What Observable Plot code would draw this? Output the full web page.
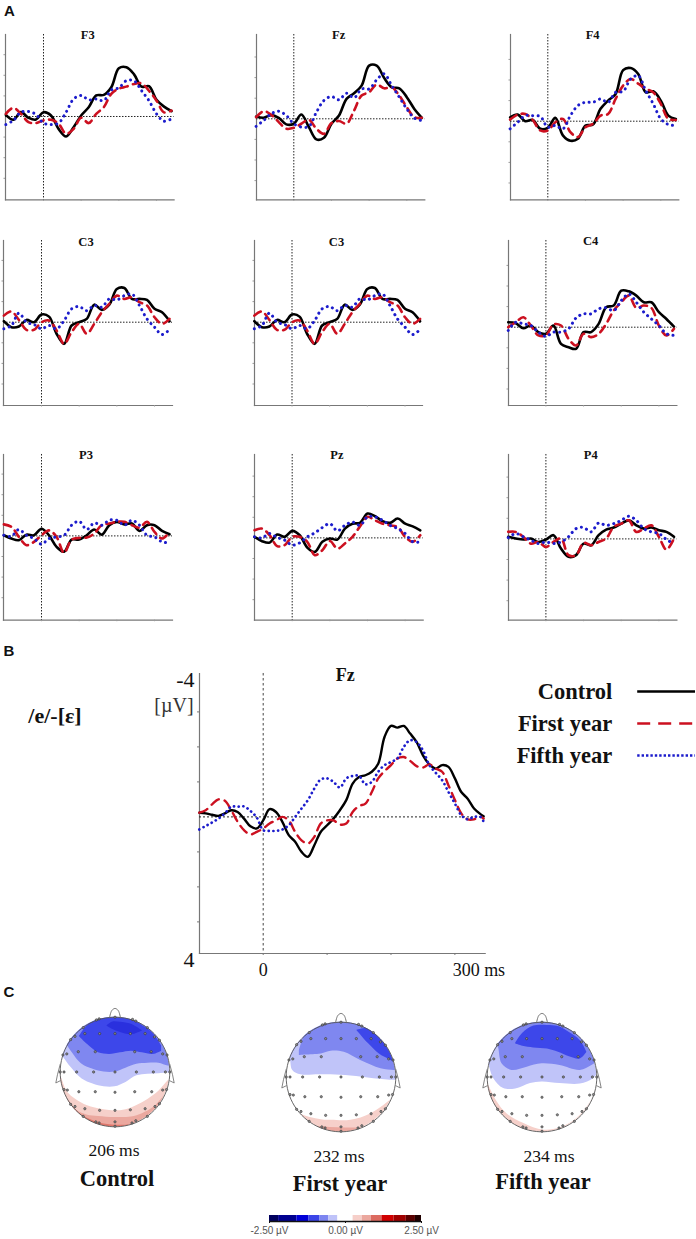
<!DOCTYPE html>
<html><head><meta charset="utf-8">
<script src="https://cdn.jsdelivr.net/npm/d3@7"></script>
<script src="https://cdn.jsdelivr.net/npm/@observablehq/plot@0.6"></script>
<style>
html,body{margin:0;padding:0;background:#fff}
#page{position:relative;width:696px;height:1239px;overflow:hidden;background:#fff}
#page>svg,#page>figure{position:absolute;margin:0}
.t{position:absolute;white-space:nowrap;line-height:1;transform:translate(-50%,-50%)}
.serif{font-family:"Liberation Serif",serif}
.sans{font-family:"Liberation Sans",sans-serif}
</style></head><body><div id="page"></div>
<script>
// ---------- Time grids (ms) ----------
const smallTimes=[-100,-80,-60,-40,-20,0,20,40,60,80,100,120,140,160,180,200,220,240,260,280,300,320,340];
const bigTimes=[-100,-90,-80,-70,-60,-50,-40,-30,-20,-10,0,10,20,30,40,50,60,70,80,90,100,110,120,130,140,150,160,170,180,190,200,210,220,230,240,250,260,270,280,290,300,310,320,330,340,345];

// ---------- Panel A, amplitudes (µV) ----------
const f3Control=[-.08,.16,-.21,.06,.15,-.21,-.05,.6,.97,.52,-.05,-.45,-1.02,-1.05,-1.42,-2.34,-2.39,-2.06,-1.45,-1.47,-.81,-.48,-.26];
const f3First=[-.13,-.42,-.13,.27,.32,.19,.16,.35,.84,.6,.06,.32,-.13,-.45,-1.1,-1.35,-1.45,-1.58,-1.61,-1.25,-.77,-.2,-.29];
const f3Fifth=[.39,.19,-.21,-.24,-.1,.32,.39,.32,-.21,-.85,-1.02,-.81,-.85,-.77,-1.29,-1.39,-1.74,-1.74,-1.26,-.77,-.13,.23,.11];
const fzControl=[-.11,-.05,-.18,-.05,.27,.24,-.21,.4,1.0,.92,.24,-.16,-.97,-1.24,-1.61,-2.58,-2.58,-1.98,-1.53,-1.48,-1.05,-.48,-.05];
const fzFirst=[-.08,-.37,-.19,.16,.48,.44,.24,.05,.48,.73,.21,.11,.24,-.4,-1.13,-1.29,-1.66,-1.48,-1.53,-1.13,-.56,-.08,-.05];
const fzFifth=[.37,.08,-.24,-.37,-.16,.24,.4,.37,-.32,-.89,-1.08,-.92,-1.24,-1.02,-1.45,-1.45,-1.89,-2.18,-1.61,-1.05,-.48,-.03,.08];
const f4Control=[-.19,-.32,0,-.06,.37,.32,-.16,.69,.95,.85,.21,.16,-.6,-1.0,-1.32,-2.48,-2.58,-2.29,-1.4,-1.45,-1,-.27,-.11];
const f4First=[-.08,-.32,-.35,-.06,.45,.45,.05,-.11,.53,.77,.29,.13,-.27,-.35,-1.08,-1.73,-2.05,-1.82,-1.58,-1.4,-.84,-.11,-.06];
const f4Fifth=[.37,.05,-.27,-.27,-.23,.29,.21,.37,-.27,-.76,-.92,-.92,-1.08,-.92,-1.4,-1.45,-2.05,-2.21,-1.48,-.84,-.11,.16,.21];
const c3Control=[-.05,.24,.21,-.11,0,-.37,-.27,.56,1.05,.16,0,-.16,-.85,-.6,-.85,-1.61,-1.66,-1.13,-1.13,-1.08,-.65,-.48,-.05];
const c3First=[-.32,-.52,-.11,.37,.37,0,-.08,.4,1.05,.48,.08,.56,.08,-.48,-.89,-1.29,-1.13,-1.21,-.97,-.81,-.24,.08,-.16];
const c3Fifth=[.32,.16,-.44,0,.11,.32,.16,.32,-.08,-.65,-.76,-.56,-.81,-.73,-1.13,-1.08,-1.29,-1.37,-.81,-.16,.24,.6,.35];
const c4Control=[-.24,-.19,.05,-.08,.24,.32,-.08,.81,.97,1.05,.24,.24,-.16,-.97,-1.05,-1.77,-1.74,-1.53,-1.21,-1.21,-.73,-.4,-.03];
const c4First=[0,-.24,-.48,-.08,.4,.4,-.13,-.08,.56,.89,.32,.48,.32,-.16,-.81,-1.21,-1.53,-.94,-1.05,-.94,-.08,.4,.08];
const c4Fifth=[.16,-.24,-.16,-.08,.24,.45,.24,.24,.08,-.45,-.65,-.65,-.89,-.94,-.81,-1.29,-1.61,-1.21,-.73,-.4,-.08,.32,.4];
const p3Control=[-.03,.13,.21,-.06,-.03,-.35,-.03,.53,.77,.18,.18,-.03,-.31,-.06,-.52,-.68,-.56,-.6,-.24,-.52,-.52,-.24,-.08];
const p3First=[-.56,-.44,.05,.45,.29,-.03,-.27,.05,.82,.18,.1,.08,-.11,-.52,-.6,-.68,-.68,-.52,-.4,-.68,-.19,.13,-.19];
const p3Fifth=[-.03,.02,-.31,-.03,.13,.4,.13,.05,-.03,-.52,-.71,-.31,-.63,-.52,-.76,-.76,-.52,-.76,-.52,-.03,.05,.29,.34];
const pzControl=[-.05,.16,.23,-.16,-.05,-.34,-.13,.47,.68,.19,.03,.08,-.45,-.69,-.73,-1.18,-1.05,-.81,-.73,-.94,-.69,-.56,-.37];
const pzFirst=[-.37,-.45,-.13,.4,.35,-.05,-.05,.19,.84,.6,.15,.52,.27,-.05,-.56,-1.02,-.85,-.69,-.61,-.53,-.05,.19,-.13];
const pzFifth=[-.05,0,-.21,-.02,.11,.35,.24,-.05,-.24,-.5,-.69,-.34,-.61,-.77,-.61,-1.02,-1.02,-.85,-.61,-.45,-.21,.19,.19];
const p4Control=[-.1,-.02,.03,-.02,.15,.03,-.18,.47,.87,.79,.23,.31,-.18,-.45,-.55,-.74,-.9,-.66,-.5,-.55,-.42,-.34,-.1];
const p4First=[-.34,-.34,-.1,.23,.15,.39,.15,-.02,.79,.79,.19,.31,.15,-.02,-.58,-.74,-.9,-.34,-.5,-.66,-.1,.52,-.02];
const p4Fifth=[-.06,-.26,-.1,.06,.23,.15,.23,.15,-.1,-.5,-.55,-.34,-.77,-.66,-.74,-.9,-1.1,-.9,-.5,-.34,-.26,.03,.23];

// ---------- Panel B, amplitudes (µV) ----------
const bigControl=[-.12,-.10,-.06,-.03,-.10,-.19,-.14,.05,.27,.33,.10,-.22,-.14,.14,.52,.71,1.0,1.14,.81,.43,.24,.05,-.19,-.48,-.95,-1.14,-1.19,-1.29,-1.52,-2.29,-2.6,-2.55,-2.6,-2.38,-2.14,-1.76,-1.5,-1.38,-1.48,-1.43,-1.1,-.71,-.52,-.24,-.08,-.02];
const bigFirst=[-.12,-.19,-.36,-.5,-.46,-.19,.14,.38,.5,.43,.33,.19,.1,0,.1,.43,.67,.76,.57,.19,.1,.1,.22,.19,-.14,-.31,-.38,-.71,-1.10,-1.31,-1.48,-1.67,-1.71,-1.6,-1.45,-1.41,-1.5,-1.38,-1.29,-.9,-.48,-.1,.07,.07,0,.05];
const bigFifth=[.36,.26,.16,.05,-.1,-.29,-.29,-.3,-.17,.02,.38,.4,.4,.36,.24,0,-.24,-.48,-.81,-1.07,-1.1,-1,-.84,-1.1,-1.17,-1.17,-.93,-1,-1.29,-1.48,-1.57,-1.67,-2,-2.19,-2.14,-1.9,-1.48,-1.26,-1.05,-.71,-.38,-.05,.07,0,0,.14];

// ---------- Panel C, electrode positions on the unit head ----------
const electrodeU=[0,-.34,-.29,.32,.38,-.58,.59,-.73,-.81,.72,.81,-.55,-.28,0,.28,.55,-.88,-.95,-.67,-.36,.36,.66,.87,.95,-1,-.93,-.7,-.39,0,.39,.7,.92,1,-.93,-.87,-.66,-.36,0,.36,.67,.87,.94,-.81,-.73,-.55,-.28,0,.28,.55,.73,.81,-.58,-.35,-.29,0,0,.31,.38,.59];
const electrodeV=[1,.95,.97,.96,.93,.81,.81,.65,.59,.64,.58,.7,.7,.7,.7,.7,.33,.31,.37,.37,.37,.37,.33,.31,0,0,0,0,0,0,0,0,0,-.32,-.33,-.36,-.36,-.37,-.36,-.36,-.33,-.32,-.59,-.63,-.67,-.7,-.7,-.69,-.67,-.63,-.58,-.81,-.91,-.93,-.91,-.99,-.93,-.89,-.81];

// ---------- Panel C, potential band outlines (head coordinates) ----------
const ctlLightU=[-1.05,-.95,-.8,-.6,-.4,-.2,0,.2,.4,.6,.8,.97,1.05];
const ctlLightLo=[.4,.28,.08,-.13,-.22,-.27,-.27,-.19,-.07,-.04,-.03,-.02,-.02];
const ctlMidU=[-1,-.9,-.8,-.6,-.4,-.2,0,.2,.4,.6,.8,.97,1.05];
const ctlMidLo=[.65,.53,.38,.14,.05,0,0,.07,.14,.16,.16,.11,.11];
const ctlStrongU=[-.65,-.5,-.3,-.1,.1,.3,.5,.7,.85];
const ctlStrongLo=[.65,.5,.35,.32,.35,.38,.35,.32,.38];
const ctlStrongHi=[.65,.85,.96,.98,.98,.95,.85,.7,.48];
const ctlDeepU=[-.15,-.05,.1,.3,.5];
const ctlDeepLo=[.84,.78,.72,.68,.75];
const ctlDeepHi=[.84,.91,.91,.87,.75];
const ctlPinkU=[-1.05,-.98,-.85,-.6,-.4,-.2,0,.2,.4,.6,.8,.97,1.05];
const ctlPinkHi=[.05,-.1,-.39,-.57,-.65,-.69,-.71,-.69,-.61,-.5,-.35,-.16,-.08];
const ctlSalmonU=[-1,-.9,-.7,-.5,-.3,0,.3,.5,.7,.87,1];
const ctlSalmonHi=[-.3,-.47,-.7,-.79,-.81,-.83,-.82,-.76,-.65,-.47,-.3];
const ctlRedU=[-.9,-.78,-.6,-.4,-.2,0,.2,.35];
const ctlRedHi=[-.45,-.61,-.79,-.89,-.95,-.97,-.97,-.95];

const firstLightU=[-1.05,-.94,-.88,-.73,-.4,-.18,.18,.6,.97,1.05];
const firstLightLo=[.5,.39,.12,.04,.04,.04,.02,-.03,-.06,-.06];
const firstMidU=[-.76,-.65,-.36,-.18,.06,.36,.73,.97,1.05];
const firstMidLo=[.39,.4,.42,.47,.45,.3,.15,.12,.12];
const firstMidHi=[.48,.78,1.1,1.1,1.1,1.1,1.1,1.1,1.1];
const firstStrongU=[.29,.5,.7,.88,.97];
const firstStrongLo=[.85,.61,.42,.32,.27];
const firstStrongHi=[.85,.88,.72,.48,.27];
const firstPinkU=[-1.05,-.97,-.79,-.36,-.18,.18,.55,.97,1.05];
const firstPinkHi=[-.2,-.3,-.64,-.78,-.79,-.79,-.67,-.36,-.25];
const firstSalmonU=[-.5,-.2,.1,.35];
const firstSalmonHi=[-.9,-.92,-.93,-.93];

const fifthLightU=[-1.05,-.99,-.88,-.7,-.48,-.21,0,.33,.7,.94,1.05];
const fifthLightLo=[.45,.3,-.03,-.21,-.22,-.12,-.09,-.12,-.13,-.03,.12];
const fifthMidU=[-.85,-.8,-.73,-.55,-.27,0,.33,.7,.91,1.05];
const fifthMidLo=[.6,.55,.24,.12,.18,.24,.21,.12,.21,.3];
const fifthStrongU=[-.48,-.35,-.15,.1,.3,.5,.7,.82];
const fifthStrongLo=[.6,.56,.53,.51,.45,.37,.33,.45];
const fifthStrongHi=[.62,.8,.93,.94,.92,.81,.66,.45];
const fifthPinkU=[-1.05,-.99,-.82,-.64,-.33,.03,.39,.7,.94,.99,1.05];
const fifthPinkHi=[0,-.12,-.45,-.67,-.85,-.97,-.91,-.7,-.36,-.2,-.1];

// ---------- Panel C, colour bar ----------
const barEdges=[-2.5,-2.2,-1.6,-1.2,-.85,-.55,-.25,.25,.55,.85,1.2,1.6,2,2.3,2.5];
const barColors=["#00005e","#000090","#0000d8","#3b45e8","#7d85f0","#bfc3f9","#ffffff","#f6cfc9","#eba79e","#dc6a60","#d00000","#a00000","#5a0000","#200000"];
const barTicks=[-2.5,0,2.5];

// ---------- Labels ----------
const groups=["Control","First year","Fifth year"];
const yTicks=[-3,-2,-1,1,2,3];
const minorXTicks=[0,100,200,300];

const page=document.getElementById("page");
const ink={Control:"#000",First:"#cc1020",Fifth:"#1c1ccc"};
const axisGrey="#777";
const noText=()=>"";
function place(node,left,top){node.style.position="absolute";node.style.left=left+"px";node.style.top=top+"px";node.style.overflow="visible";page.appendChild(node);return node;}
function text(s,x,y,cls,css){const d=document.createElement("div");d.className="t "+cls;d.textContent=s;d.style.left=x+"px";d.style.top=y+"px";d.style.cssText+=css;page.appendChild(d);}
function rows(ts,vs){return ts.map((t,i)=>({t,v:vs[i]}));}

function seriesMarks(ts,c,f,v,w,dash,dotW,dot){
  return [
    Plot.line(rows(ts,c),{x:"t",y:"v",curve:"catmull-rom",stroke:ink.Control,strokeWidth:w}),
    Plot.line(rows(ts,f),{x:"t",y:"v",curve:"catmull-rom",stroke:ink.First,strokeWidth:w,strokeDasharray:dash}),
    Plot.line(rows(ts,v),{x:"t",y:"v",curve:"catmull-rom",stroke:ink.Fifth,strokeWidth:dotW,strokeDasharray:dot,strokeLinecap:"round"})
  ];
}

// Panel layouts in page pixels
const smallPanels=[
 {name:"F3",l:4.7,r:173.3,t:34,b:199.3,z:116,x0:42.7,c:f3Control,f:f3First,v:f3Fifth},
 {name:"Fz",l:256,r:424.3,t:34,b:199.3,z:118.3,x0:293.3,c:fzControl,f:fzFirst,v:fzFifth},
 {name:"F4",l:510,r:678.3,t:34,b:199.3,z:120.7,x0:547.3,c:f4Control,f:f4First,v:f4Fifth},
 {name:"C3",l:3.3,r:172.3,t:240,b:405,z:321.7,x0:41.3,c:c3Control,f:c3First,v:c3Fifth},
 {name:"C3",l:254,r:422,t:240,b:405,z:321.7,x0:291.5,c:c3Control,f:c3First,v:c3Fifth},
 {name:"C4",l:508.3,r:676.7,t:240,b:405,z:326.7,x0:545.7,c:c4Control,f:c4First,v:c4Fifth},
 {name:"P3",l:3.3,r:172.3,t:454.3,b:620,z:535.7,x0:41.3,c:p3Control,f:p3First,v:p3Fifth},
 {name:"Pz",l:254.3,r:423,t:454.3,b:620,z:537.7,x0:292,c:pzControl,f:pzFirst,v:pzFifth},
 {name:"P4",l:508.3,r:676.7,t:454.3,b:620,z:538.7,x0:545.7,c:p4Control,f:p4First,v:p4Fifth}
];
for(const p of smallPanels){
  const mx=6,mt=8,mb=8;
  const pxMs=.3767,pxUv=20.6;
  const chart=Plot.plot({
    width:p.r-p.l+2*mx,height:p.b-p.t+mt+mb,marginLeft:mx,marginRight:mx,marginTop:mt,marginBottom:mb,
    style:{background:"transparent",overflow:"visible"},
    x:{domain:[(p.l-p.x0)/pxMs,(p.r-p.x0)/pxMs],axis:null},
    y:{domain:[(p.b-p.z)/pxUv,(p.t-p.z)/pxUv],axis:null},
    marks:[
      Plot.frame({anchor:"left",stroke:axisGrey,strokeWidth:1.2}),
      Plot.frame({anchor:"bottom",stroke:axisGrey,strokeWidth:1.2}),
      Plot.axisX({ticks:minorXTicks,tickSize:1.5,tickFormat:noText,label:null,stroke:"#999",anchor:"bottom"}),
      Plot.axisY({ticks:yTicks,tickSize:1.5,tickFormat:noText,label:null,stroke:"#999",anchor:"left"}),
      Plot.ruleY([0],{stroke:"#222",strokeWidth:1,strokeDasharray:"1.5,1.5"}),
      Plot.ruleX([0],{stroke:"#222",strokeWidth:1,strokeDasharray:"1.5,1.5"}),
      ...seriesMarks(smallTimes,p.c,p.f,p.v,2.6,"7.5,5.5",3,"0.1,5.4"),
      Plot.text([p.name],{frameAnchor:"top",lineAnchor:"middle",dy:1,dx:-2,fontFamily:"Liberation Serif",fontWeight:"bold",fontSize:12.5,fill:"#111"})
    ]
  });
  place(chart,p.l-mx,p.t-mt);
}

// Panel B
{
  const L=199.3,R=485,T=673.3,B=953.3,Z=816.7,X0=263;
  const mL=40,mR=40,mT=14,mB=34,pxMs=.639,pxUv=35;
  const serif="Liberation Serif";
  const chart=Plot.plot({
    width:R-L+mL+mR,height:B-T+mT+mB,marginLeft:mL,marginRight:mR,marginTop:mT,marginBottom:mB,
    style:{background:"transparent",overflow:"visible"},
    x:{domain:[(L-X0)/pxMs,(R-X0)/pxMs],axis:null},
    y:{domain:[(B-Z)/pxUv,(T-Z)/pxUv],axis:null},
    marks:[
      Plot.frame({anchor:"left",stroke:axisGrey,strokeWidth:1.2}),
      Plot.frame({anchor:"bottom",stroke:axisGrey,strokeWidth:1.2}),
      Plot.axisX({ticks:minorXTicks,tickSize:2,tickFormat:noText,label:null,stroke:axisGrey,anchor:"bottom"}),
      Plot.axisY({ticks:yTicks,tickSize:2,tickFormat:noText,label:null,stroke:axisGrey,anchor:"left"}),
      Plot.axisX({ticks:[0],tickSize:0,tickPadding:10,anchor:"bottom",fontFamily:serif,fontSize:18,tickFormat:d=>String(d),label:null,stroke:"none",fill:"#111"}),
      Plot.axisX({ticks:[300],tickSize:0,tickPadding:10,anchor:"bottom",dx:24,fontFamily:serif,fontSize:18,tickFormat:d=>d+" ms",label:null,stroke:"none",fill:"#111"}),
      Plot.axisY({ticks:[-4,4],tickSize:0,tickPadding:5,anchor:"left",dy:3,fontFamily:serif,fontSize:22,tickFormat:d=>String(d),label:null,stroke:"none",fill:"#111"}),
      Plot.ruleY([0],{stroke:"#222",strokeWidth:1,strokeDasharray:"2,2"}),
      Plot.ruleX([0],{stroke:"#444",strokeWidth:1,strokeDasharray:"2.5,2.5"}),
      ...seriesMarks(bigTimes,bigControl,bigFirst,bigFifth,2.4,"9,6",2.7,"0.1,4.6"),
      Plot.text(["Fz"],{frameAnchor:"top",lineAnchor:"middle",dy:2,dx:3,fontFamily:serif,fontWeight:"bold",fontSize:18,fill:"#111"})
    ]
  });
  place(chart,L-mL,T-mT);

  // Legend
  const legend=Plot.plot({
    width:196,height:100,margin:0,
    style:{background:"transparent",overflow:"visible"},
    x:{domain:[0,1],axis:null},
    y:{type:"point",domain:groups,range:[20,85],padding:0,axis:null},
    marks:[
      Plot.text(groups,{x:()=>.57,y:d=>d,text:d=>d,textAnchor:"end",dy:0,fontFamily:serif,fontWeight:"bold",fontSize:22.5,fill:"#111"}),
      Plot.ruleY([groups[0]],{x1:.7,x2:.995,stroke:ink.Control,strokeWidth:2.6}),
      Plot.ruleY([groups[1]],{x1:.7,x2:.995,stroke:ink.First,strokeWidth:2.6,strokeDasharray:"13,8"}),
      Plot.ruleY([groups[2]],{x1:.7,x2:.995,stroke:ink.Fifth,strokeWidth:2.6,strokeDasharray:"2.4,2"})
    ]
  });
  place(legend,500,670);
}

// Panel C: head maps
const colLight="#c0c4f9",colMid="#7f87f0",colStrong="#3d47ea",colDeep="#2a30de",colPink="#f6d0ca",colSalmon="#eba89f",colRed="#e0766b";
const layer=(fill,u,lo,hi)=>({fill,rows:u.map((x,i)=>({x,lo:Array.isArray(lo)?lo[i]:lo,hi:Array.isArray(hi)?hi[i]:hi}))});
const above=1.2,below=-1.2;
const heads=[
 {cx:114.3,cy:1071.3,layers:[
   layer(colLight,ctlLightU,ctlLightLo,above),layer(colMid,ctlMidU,ctlMidLo,above),layer(colStrong,ctlStrongU,ctlStrongLo,ctlStrongHi),layer(colDeep,ctlDeepU,ctlDeepLo,ctlDeepHi),
   layer(colPink,ctlPinkU,below,ctlPinkHi),layer(colSalmon,ctlSalmonU,below,ctlSalmonHi),layer(colRed,ctlRedU,below,ctlRedHi)]},
 {cx:340,cy:1076.7,layers:[
   layer(colLight,firstLightU,firstLightLo,above),layer(colMid,firstMidU,firstMidLo,firstMidHi),layer(colStrong,firstStrongU,firstStrongLo,firstStrongHi),
   layer(colPink,firstPinkU,below,firstPinkHi),layer(colSalmon,firstSalmonU,below,firstSalmonHi)]},
 {cx:541.7,cy:1076.7,layers:[
   layer(colLight,fifthLightU,fifthLightLo,above),layer(colMid,fifthMidU,fifthMidLo,above),layer(colStrong,fifthStrongU,fifthStrongLo,fifthStrongHi),
   layer(colPink,fifthPinkU,below,fifthPinkHi)]}
];
const outlineAngles=d3.range(0,361,4);
const circlePts=outlineAngles.map(a=>({x:Math.cos(a*Math.PI/180),y:Math.sin(a*Math.PI/180)}));
const nosePts=[{x:-.1,y:.99},{x:-.06,y:1.12},{x:0,y:1.16},{x:.06,y:1.12},{x:.1,y:.99}];
const earL=[{x:-1,y:.14},{x:-1.05,y:-.05},{x:-1.08,y:-.2},{x:-1,y:-.16}];
const earR=[{x:1,y:.14},{x:1.05,y:-.05},{x:1.08,y:-.2},{x:1,y:-.16}];
const electrodes=electrodeU.map((x,i)=>({x,y:electrodeV[i]}));
heads.forEach((h,idx)=>{
  const Rp=54.8,span=1.25,size=2*span*Rp;
  const svg=Plot.plot({
    width:size,height:size,margin:0,
    style:{background:"transparent",overflow:"visible"},
    x:{domain:[-span,span],axis:null},y:{domain:[-span,span],axis:null},
    marks:[
      ...h.layers.map(b=>Plot.areaY(b.rows,{x:"x",y1:"lo",y2:"hi",curve:"catmull-rom",fill:b.fill})),
      Plot.line(circlePts,{x:"x",y:"y",stroke:"#555",strokeWidth:.9}),
      Plot.line(nosePts,{x:"x",y:"y",curve:"catmull-rom",stroke:"#666",strokeWidth:.9}),
      Plot.line(earL,{x:"x",y:"y",stroke:"#777",strokeWidth:.9}),
      Plot.line(earR,{x:"x",y:"y",stroke:"#777",strokeWidth:.9}),
      Plot.dot(electrodes,{x:"x",y:"y",r:1.15,fill:"#8c8c8c",stroke:"#333",strokeWidth:.6})
    ]
  });
  // keep the potential bands inside the head outline
  const id="head-clip-"+idx;
  const ns="http://www.w3.org/2000/svg";
  const defs=document.createElementNS(ns,"clipPath");defs.setAttribute("id",id);
  const c=document.createElementNS(ns,"circle");c.setAttribute("cx",svg.scale("x").apply(0));c.setAttribute("cy",svg.scale("y").apply(0));c.setAttribute("r",Rp);
  defs.appendChild(c);svg.appendChild(defs);
  svg.querySelectorAll('g[aria-label="area"]').forEach(g=>g.setAttribute("clip-path",`url(#${id})`));
  place(svg,h.cx-size/2,h.cy-size/2);
});

// Colour bar
{
  const L=269,R=421,mx=40;
  const steps=barColors.map((fill,i)=>({x1:barEdges[i],x2:barEdges[i+1],fill}));
  const bar=Plot.plot({
    width:R-L+2*mx,height:24,marginLeft:mx,marginRight:mx,marginTop:0,marginBottom:18,
    style:{background:"transparent",overflow:"visible"},
    x:{domain:[-2.5,2.5],axis:null},y:{domain:[0,1],axis:null},
    marks:[
      Plot.rectY(steps,{x1:"x1",x2:"x2",y1:0,y2:1,fill:"fill"}),
      Plot.ruleY([0],{stroke:"#111",strokeWidth:1.4}),
      Plot.axisX({ticks:barTicks,tickSize:2,tickPadding:3,anchor:"bottom",stroke:"#111",fontFamily:"Liberation Sans",fontSize:10,fill:"#555",label:null,tickFormat:d=>d.toFixed(2)+" µV"})
    ]
  });
  place(bar,L-mx,1215);
}

// Page text
text("A",9.5,10,"sans","font-size:15px;font-weight:bold;color:#111");
text("B",9,650,"sans","font-size:15px;font-weight:bold;color:#111");
text("C",9,991,"sans","font-size:15px;font-weight:bold;color:#111");
text("/e/-[ε]",55,716,"serif","font-size:22px;font-weight:bold;color:#111");
text("[µV]",174,705,"serif","font-size:20px;color:#333");
text("206 ms",114,1151,"serif","font-size:17.5px;color:#111");
text("Control",117,1179,"serif","font-size:22.5px;font-weight:bold;color:#111");
text("232 ms",339,1157,"serif","font-size:17.5px;color:#111");
text("First year",340,1184,"serif","font-size:22.5px;font-weight:bold;color:#111");
text("234 ms",549,1157,"serif","font-size:17.5px;color:#111");
text("Fifth year",543,1182,"serif","font-size:22.5px;font-weight:bold;color:#111");
</script>
</body></html>
